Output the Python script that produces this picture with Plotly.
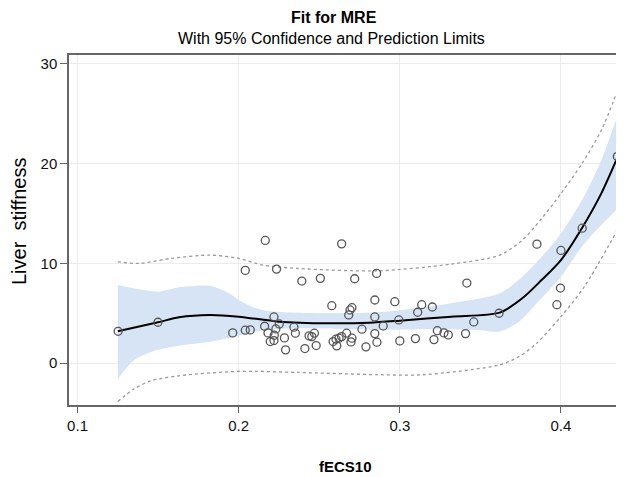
import plotly.graph_objects as go

# Observed data points
fecs10 = [0.1252, 0.1499, 0.1963, 0.2041, 0.2072, 0.2165, 0.2041, 0.2235, 0.2161, 0.2219,
          0.2252, 0.2231, 0.2182, 0.2221, 0.2196, 0.2219, 0.2284, 0.2291, 0.2343, 0.2352,
          0.2392, 0.2411, 0.2437, 0.2454, 0.2470, 0.2481, 0.2507, 0.2578, 0.2586, 0.2604,
          0.2609, 0.2623, 0.2639, 0.2639, 0.2670, 0.2683, 0.2691, 0.2697, 0.2703, 0.2703,
          0.2720, 0.2765, 0.2790, 0.2845, 0.2845, 0.2845, 0.2856, 0.2858, 0.2897, 0.2969,
          0.2994, 0.3000, 0.3097, 0.3111, 0.3136, 0.3202, 0.3212, 0.3233, 0.3274, 0.3301,
          0.3408, 0.3416, 0.3459, 0.3616, 0.3851, 0.3975, 0.3997, 0.4000, 0.4132, 0.4350]
liver = [3.19, 4.10, 3.03, 3.30, 3.33, 12.30, 9.30, 9.43, 3.70, 4.63,
         3.93, 3.43, 3.03, 2.80, 2.16, 2.26, 2.53, 1.33, 3.60, 3.00,
         8.23, 1.46, 2.73, 2.66, 3.00, 1.76, 8.50, 5.76, 2.16, 2.40,
         1.73, 2.50, 11.96, 2.66, 3.00, 4.83, 5.33, 2.13, 5.56, 2.50,
         8.46, 3.40, 1.63, 6.33, 4.63, 2.96, 9.00, 2.10, 3.73, 6.16,
         4.33, 2.23, 2.46, 5.10, 5.86, 5.63, 2.36, 3.25, 3.03, 2.83,
         2.96, 8.03, 4.13, 5.00, 11.93, 5.86, 7.53, 11.30, 13.53, 20.73]

# Fitted curve
fit_x = [0.125, 0.150, 0.163, 0.182, 0.200, 0.225, 0.256, 0.281, 0.300, 0.332,
         0.362, 0.376, 0.388, 0.400, 0.413, 0.425, 0.435]
fit_y = [3.2, 4.1, 4.6, 4.83, 4.66, 4.16, 4.0, 4.06, 4.26, 4.66,
         5.06, 6.5, 8.33, 10.33, 13.53, 17.0, 20.6]

# 95% confidence limits
ucl_x = [0.125, 0.138, 0.150, 0.163, 0.182, 0.194, 0.200, 0.209, 0.217, 0.236,
         0.281, 0.300, 0.332, 0.362, 0.376, 0.388, 0.400, 0.413, 0.425, 0.435]
ucl_y = [7.83, 7.4, 7.16, 7.6, 7.75, 7.0, 6.33, 5.6, 5.26, 5.06,
         5.05, 5.3, 6.0, 7.0, 8.66, 10.66, 13.0, 16.33, 20.33, 24.8]
lcl_x = [0.125, 0.135, 0.150, 0.163, 0.182, 0.200, 0.215, 0.236, 0.287, 0.320,
         0.350, 0.362, 0.374, 0.385, 0.400, 0.4145, 0.435]
lcl_y = [-1.6, 0.3, 1.33, 1.75, 2.15, 2.75, 3.3, 3.5, 3.35, 3.4,
         3.3, 3.16, 4.16, 6.0, 8.66, 12.0, 15.5]

# 95% prediction limits
upi_x = [0.125, 0.138, 0.158, 0.182, 0.200, 0.215, 0.236, 0.287, 0.332, 0.362,
         0.376, 0.388, 0.400, 0.413, 0.425, 0.435]
upi_y = [10.16, 10.0, 10.5, 10.83, 10.5, 9.83, 9.5, 9.26, 9.93, 10.83,
         12.33, 14.5, 17.0, 20.0, 23.33, 27.3]
lpi_x = [0.125, 0.135, 0.145, 0.163, 0.200, 0.236, 0.287, 0.314, 0.362, 0.374,
         0.385, 0.400, 0.4145, 0.435]
lpi_y = [-3.85, -2.6, -1.8, -1.27, -0.83, -0.93, -1.16, -1.17, -0.17, 0.66,
         2.0, 4.66, 7.66, 13.33]

x_ticks = [0.1, 0.2, 0.3, 0.4]
y_ticks = [0, 10, 20, 30]

FONT = "Liberation Sans, Arial, sans-serif"
BAND = "#d6e4f6"

fig = go.Figure()
fig.add_trace(go.Scatter(x=lcl_x, y=lcl_y, mode="lines", line=dict(width=0, shape="spline", smoothing=0.8),
                         showlegend=False, hoverinfo="skip"))
fig.add_trace(go.Scatter(x=ucl_x, y=ucl_y, mode="lines", line=dict(width=0, shape="spline", smoothing=0.8),
                         fill="tonexty", fillcolor=BAND, showlegend=False, hoverinfo="skip"))
fig.add_trace(go.Scatter(x=upi_x, y=upi_y, mode="lines",
                         line=dict(color="#9a9a9a", width=1.3, dash="dot", shape="spline", smoothing=0.8),
                         showlegend=False))
fig.add_trace(go.Scatter(x=lpi_x, y=lpi_y, mode="lines",
                         line=dict(color="#9a9a9a", width=1.3, dash="dot", shape="spline", smoothing=0.8),
                         showlegend=False))
fig.add_trace(go.Scatter(x=fit_x, y=fit_y, mode="lines",
                         line=dict(color="black", width=2, shape="spline", smoothing=0.8),
                         showlegend=False))
fig.add_trace(go.Scatter(x=fecs10, y=liver, mode="markers",
                         marker=dict(symbol="circle-open", size=8, color="#555555", line=dict(width=1.3)),
                         showlegend=False))

# page has an 8px body margin, so the figure is 616x469 and offsets are relative to that
fig.update_layout(
    width=616, height=469,
    margin=dict(l=61, r=0, t=47, b=72),
    paper_bgcolor="white", plot_bgcolor="white",
    font=dict(family=FONT, size=15, color="#111111"),
    showlegend=False,
)
fig.update_xaxes(range=[0.0947, 0.4379], tickvals=x_ticks, ticktext=["0.1", "0.2", "0.3", "0.4"],
                 showgrid=True, gridcolor="#ececec", gridwidth=1, zeroline=False,
                 showline=True, linecolor="#666666", linewidth=1.5, mirror=True,
                 ticks="outside", ticklen=6, tickcolor="#666666", tickwidth=1.3,
                 tickfont=dict(size=15, family=FONT))
fig.update_yaxes(range=[-4.2, 30.9], tickvals=y_ticks,
                 showgrid=True, gridcolor="#ececec", gridwidth=1, zeroline=False,
                 showline=True, linecolor="#666666", linewidth=1.5, mirror=True,
                 ticks="outside", ticklen=7, tickcolor="#666666", tickwidth=1.3,
                 tickfont=dict(size=15, family=FONT))

fig.add_annotation(text="<b>Fit for MRE</b>", xref="paper", yref="paper", x=0.5, y=1.0,
                   xanchor="center", yanchor="middle", xshift=-12, yshift=38, showarrow=False,
                   font=dict(size=16, family=FONT, color="black"))
fig.add_annotation(text="With 95% Confidence and Prediction Limits", xref="paper", yref="paper",
                   x=0.5, y=1.0, xanchor="center", yanchor="middle", xshift=-14, yshift=17, showarrow=False,
                   font=dict(size=16, family=FONT, color="black"))
fig.add_annotation(text="<b>fECS10</b>", xref="paper", yref="paper", x=0.5, y=0,
                   xanchor="center", yanchor="middle", yshift=-61,
                   showarrow=False, font=dict(size=15, family=FONT, color="black"))
fig.add_annotation(text="Liver  stiffness", xref="paper", yref="paper", x=0, xshift=-50, y=0.5,
                   xanchor="center", yanchor="middle", yshift=8, textangle=-90, showarrow=False,
                   font=dict(size=20, family=FONT, color="black"))

fig.write_html("out.html")
